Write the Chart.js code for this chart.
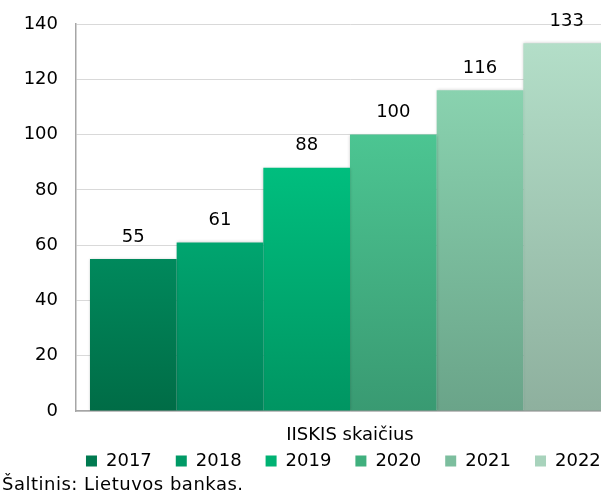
<!DOCTYPE html>
<html>
<head>
<meta charset="utf-8">
<script src="https://cdn.jsdelivr.net/npm/chart.js@4"></script>
<style>
  html, body { margin: 0; padding: 0; background: #fff; overflow: hidden; width: 601px; height: 494px; }
  #wrap { position: absolute; left: 0; top: 0; width: 640px; height: 494px; }
  #src { position: absolute; left: 2px; top: 473px; font: 18px "DejaVu Sans", sans-serif; letter-spacing: 0.5px; line-height: 22px; color: #000; white-space: nowrap; }
</style>
</head>
<body>
<div id="wrap"><canvas id="c" width="640" height="494"></canvas></div>
<div id="src">Šaltinis: Lietuvos bankas.</div>
<script>
const categories = ['IISKIS skaičius'];
const years = ['2017', '2018', '2019', '2020', '2021', '2022'];
const values = [55, 61, 88, 100, 116, 133];
const yTicks = [0, 20, 40, 60, 80, 100, 120, 140];

const topColors = ['#00895C', '#00A56F', '#00BE7E', '#4CC592', '#89D2AF', '#B3DEC8'];
const bottomColors = ['#006C46', '#00845A', '#009562', '#399A72', '#6AA489', '#8EB09E'];
const legendColors = ['#007A50', '#009A66', '#00B273', '#40B07E', '#7CBE9E', '#A8D3BC'];

Chart.defaults.font.family = '"DejaVu Sans", sans-serif';
Chart.defaults.font.size = 18;
Chart.defaults.color = '#000';

function gradFor(i) {
  return (c) => {
    const chart = c.chart;
    const area = chart.chartArea;
    if (!area || !chart.scales.y) return topColors[i];
    const yTop = chart.scales.y.getPixelForValue(values[i]);
    const g = chart.ctx.createLinearGradient(0, yTop, 0, area.bottom);
    g.addColorStop(0, topColors[i]);
    g.addColorStop(1, bottomColors[i]);
    return g;
  };
}

const datasets = years.map((y, i) => ({
  label: y,
  data: [values[i]],
  backgroundColor: gradFor(i),
  borderWidth: 0,
  categoryPercentage: 0.949,
  barPercentage: 1.0
}));

const barStyle = {
  id: 'barStyle',
  beforeDatasetsDraw(chart) {
    const ctx = chart.ctx;
    ctx.save();
    ctx.shadowColor = 'rgba(0,0,0,0.22)';
    ctx.shadowBlur = 3;
    ctx.shadowOffsetX = 0;
    ctx.shadowOffsetY = 0;
  },
  afterDatasetsDraw(chart) {
    const ctx = chart.ctx;
    ctx.restore();
    ctx.save();
    ctx.font = '18px "DejaVu Sans", sans-serif';
    ctx.fillStyle = '#000';
    ctx.textAlign = 'center';
    ctx.textBaseline = 'middle';
    chart.data.datasets.forEach((ds, di) => {
      const meta = chart.getDatasetMeta(di);
      meta.data.forEach((bar, j) => {
        ctx.fillText(String(ds.data[j]), bar.x, bar.y - 22);
      });
    });
    ctx.restore();
  }
};

const legendPlace = {
  id: 'legendPlace',
  afterLayout(chart) {
    const lg = chart.legend;
    const a = chart.chartArea;
    if (!lg || !a) return;
    const w = lg.right - lg.left;
    const cx = (a.left + a.right) / 2 - 6.6;
    lg.left = cx - w / 2;
    lg.right = cx + w / 2;
    lg.top = a.bottom + 17;
    lg.bottom = lg.top + 50;
  }
};

new Chart(document.getElementById('c'), {
  type: 'bar',
  data: { labels: categories, datasets },
  options: {
    responsive: false,
    animation: false,
    layout: { padding: { top: 24, left: 23.6, right: 16, bottom: 17.4 } },
    scales: {
      x: {
        grid: { display: false, drawTicks: false },
        border: { display: true, color: '#a6a6a6', width: 1.5 },
        ticks: { padding: 14, color: '#000', font: { size: 18 } },
        afterFit(scale) { scale.height = 35.6; scale.paddingLeft = 0; scale.paddingRight = 0; }
      },
      y: {
        min: 0,
        max: 140,
        afterBuildTicks(scale) { scale.ticks = yTicks.map(v => ({ value: v })); },
        grid: { color: '#d9d9d9', lineWidth: 1, drawTicks: false },
        border: { display: true, color: '#a6a6a6', width: 1.5 },
        ticks: { padding: 18, color: '#000', font: { size: 18 } },
        afterFit(scale) { scale.width = 52.4; scale.paddingTop = 0; scale.paddingBottom = 0; }
      }
    },
    plugins: {
      legend: {
        position: 'bottom',
        maxHeight: 30,
        labels: {
          boxWidth: 11,
          boxHeight: 11,
          padding: 24,
          color: '#000',
          font: { size: 18 },
          generateLabels(chart) {
            return chart.data.datasets.map((ds, i) => ({
              text: ds.label,
              fillStyle: legendColors[i],
              strokeStyle: legendColors[i],
              lineWidth: 0,
              hidden: !chart.isDatasetVisible(i),
              datasetIndex: i
            }));
          }
        }
      },
      tooltip: { enabled: false }
    }
  },
  plugins: [barStyle, legendPlace]
});
</script>
</body>
</html>
